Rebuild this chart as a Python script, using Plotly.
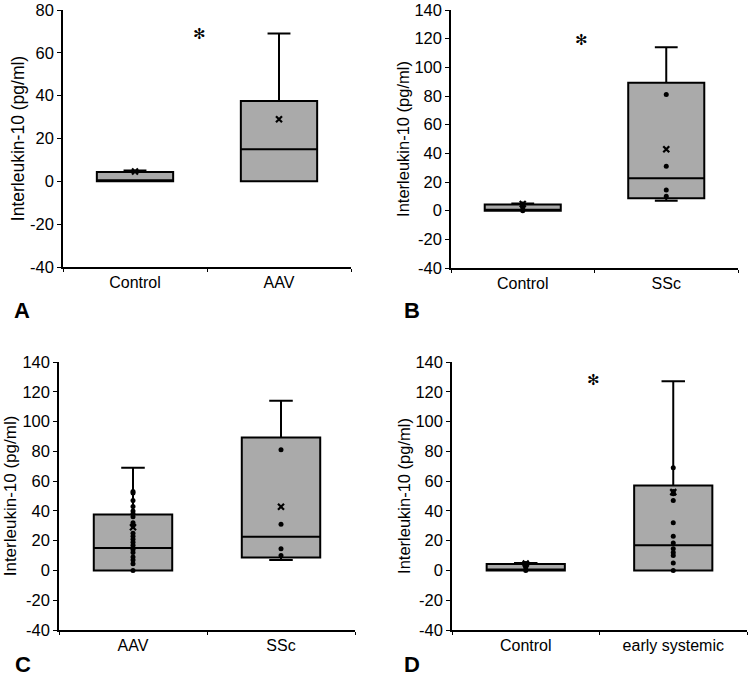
import plotly.graph_objects as go
from plotly.subplots import make_subplots

# ---------------- data ----------------
cats_A = ["Control", "AAV"]
cats_B = ["Control", "SSc"]
cats_C = ["AAV", "SSc"]
cats_D = ["Control", "early systemic"]

# box statistics: [lower whisker, q1, median, q3, upper whisker]
control_stats = [0, 0, 0, 4.3, 5]
aav_stats = [0, 0, 15, 37.5, 69]
ssc_stats = [7, 8.7, 22.7, 89.3, 114]
early_stats = [0, 0, 17, 57, 127]

# group means (x markers)
control_mean = 4.6
aav_mean = 29
ssc_mean = 42.8
early_mean = 52.6

# individual values (dots)
control_points = [0, 2, 3, 4, 4.6]
aav_points = [53, 52, 47, 43, 40, 38, 36, 32, 30, 25, 23, 21, 19, 17,
              15, 14, 12, 9, 7, 4.5, 0]
ssc_points = [81, 31, 14.5, 10]
early_points = [69, 53, 51.5, 47, 32, 23, 18.5, 14.5, 12, 10, 5, 0]

y_ticks_A = [-40, -20, 0, 20, 40, 60, 80]
y_ticks_BCD = [-40, -20, 0, 20, 40, 60, 80, 100, 120, 140]
y_labels_A = ["-40", "-20", "0", "20", "40", "60", "80"]
y_labels_BCD = ["-40", "-20", "0", "20", "40", "60", "80", "100", "120", "140"]

# ---------------- style ----------------
GRAY = "#aaaaaa"
FONT = "Liberation Sans, Arial, sans-serif"
W, H = 751, 677

fig = make_subplots(rows=2, cols=2)

groups = {
    "Control": (control_stats, control_mean, control_points),
    "AAV": (aav_stats, aav_mean, aav_points),
    "SSc": (ssc_stats, ssc_mean, ssc_points),
    "early systemic": (early_stats, early_mean, early_points),
}

panels = [
    dict(r=1, c=1, cats=cats_A, dots=[False, False], ticks=y_ticks_A, labels=y_labels_A,
         star=(0.45, 69), letter="A", tfs=17.5),
    dict(r=1, c=2, cats=cats_B, dots=[True, True], ticks=y_ticks_BCD, labels=y_labels_BCD,
         star=(0.41, 119), letter="B", tfs=16.5),
    dict(r=2, c=1, cats=cats_C, dots=[True, True], ticks=y_ticks_BCD, labels=y_labels_BCD,
         star=None, letter="C", tfs=17),
    dict(r=2, c=2, cats=cats_D, dots=[True, True], ticks=y_ticks_BCD, labels=y_labels_BCD,
         star=(0.46, 128), letter="D", tfs=16.5),
]

for p in panels:
    for cat, show in zip(p["cats"], p["dots"]):
        s, m, pts = groups[cat]
        fig.add_trace(go.Box(
            x=[cat], lowerfence=[s[0]], q1=[s[1]], median=[s[2]], q3=[s[3]], upperfence=[s[4]],
            fillcolor=GRAY, line=dict(color="black", width=2), width=0.53, whiskerwidth=0.3,
            boxpoints=False, showlegend=False, hoverinfo="skip"),
            row=p["r"], col=p["c"])
        if show:
            fig.add_trace(go.Scatter(
                x=[cat] * len(pts), y=pts, mode="markers",
                marker=dict(color="black", size=5), showlegend=False, hoverinfo="skip"),
                row=p["r"], col=p["c"])
        fig.add_trace(go.Scatter(
            x=[cat], y=[m], mode="markers",
            marker=dict(symbol="x-thin", size=6, color="black", line=dict(width=2.2, color="black")),
            showlegend=False, hoverinfo="skip"),
            row=p["r"], col=p["c"])

# axis boxes in pixels (left, right, top, bottom)
px_boxes = {
    (1, 1): (63, 351, 10, 267),
    (1, 2): (451, 738, 10, 268),
    (2, 1): (59, 355, 362, 630),
    (2, 2): (452, 747, 362, 630),
}

letters_px = {"A": (22, 311), "B": (412, 311), "C": (23, 664), "D": (412, 664)}

for i, p in enumerate(panels):
    idx = i + 1
    xa = "xaxis" if idx == 1 else f"xaxis{idx}"
    ya = "yaxis" if idx == 1 else f"yaxis{idx}"
    l, r, t, b = px_boxes[(p["r"], p["c"])]
    fig.layout[xa].update(
        domain=[l / W, r / W], categoryorder="array", categoryarray=p["cats"],
        range=[-0.5, 1.5], showline=True, linecolor="black", linewidth=1.5,
        ticks="outside", tickson="boundaries", ticklen=3, tickcolor="black",
        tickfont=dict(size=16, color="black", family=FONT),
        showgrid=False, zeroline=False, automargin=False, ticklabeloverflow="allow")
    fig.layout[ya].update(
        domain=[1 - b / H, 1 - t / H], range=[p["ticks"][0], p["ticks"][-1]],
        tickvals=p["ticks"], ticktext=p["labels"], showline=True, linecolor="black", linewidth=1.5,
        ticks="outside", ticklen=4, tickcolor="black",
        tickfont=dict(size=16.5, color="black", family=FONT),
        title=dict(text="Interleukin-10 (pg/ml)", font=dict(size=p["tfs"], color="black", family=FONT), standoff=1),
        showgrid=False, zeroline=False, automargin=False, ticklabeloverflow="allow")
    if p["star"] is not None:
        fig.add_annotation(
            x=p["star"][0], y=p["star"][1], xref=f"x{idx}" if idx > 1 else "x",
            yref=f"y{idx}" if idx > 1 else "y", text="✻", showarrow=False,
            font=dict(size=15, color="black", family="DejaVu Sans"), yshift=0)
    lx, ly = letters_px[p["letter"]]
    fig.add_annotation(
        x=lx / W, y=1 - ly / H, xref="paper", yref="paper", text="<b>" + p["letter"] + "</b>",
        showarrow=False, font=dict(size=22, color="black", family=FONT),
        xanchor="center", yanchor="middle")

fig.update_layout(
    width=W, height=H, margin=dict(l=0, r=0, t=0, b=0, autoexpand=False),
    paper_bgcolor="white", plot_bgcolor="white",
    font=dict(family=FONT, color="black"),
)

fig.write_html("out.html", config={"displayModeBar": False},
               post_script="document.body.style.margin='0';document.body.style.overflow='hidden';")
